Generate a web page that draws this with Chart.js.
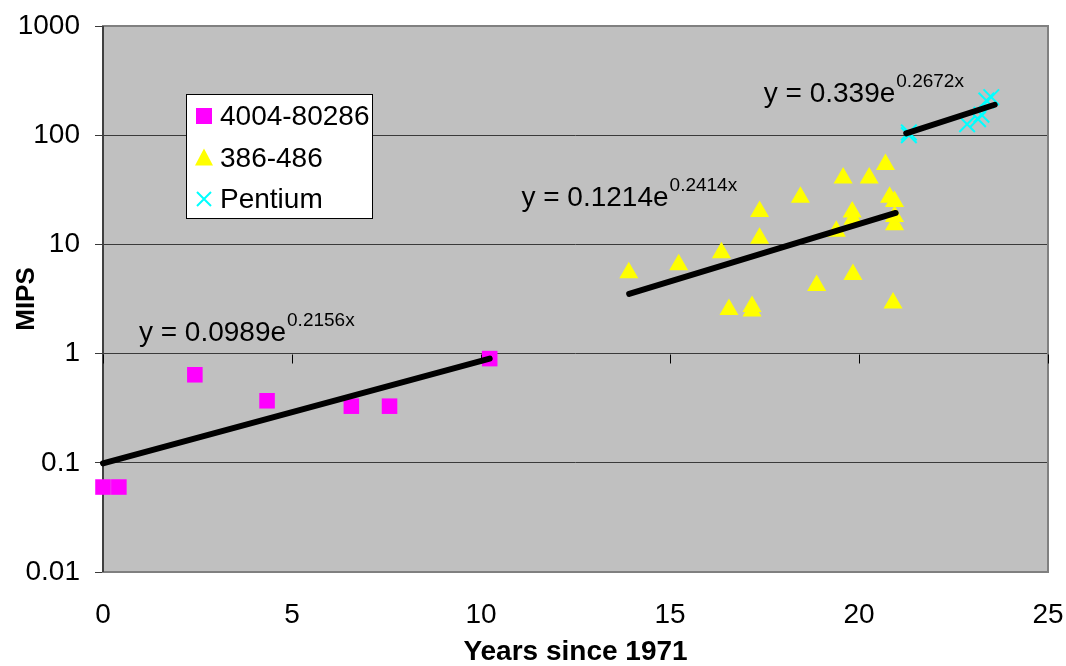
<!DOCTYPE html>
<html>
<head>
<meta charset="utf-8">
<script src="https://cdn.jsdelivr.net/npm/chart.js@4.4.1/dist/chart.umd.min.js"></script>
<style>
  html, body { margin: 0; padding: 0; background: #fff; }
  #wrap { width: 1066px; height: 666px; position: relative; }
</style>
</head>
<body>
<div id="wrap"><canvas id="mips-chart"></canvas></div>
<script>
// values (x = years since 1971, y = MIPS)
const early_x = [0, 0.42, 2.43, 4.34, 6.57, 7.58, 10.23];
const early_y = [0.06, 0.06, 0.64, 0.37, 0.33, 0.33, 0.9];

const mid_x = [13.91, 15.23, 16.36, 16.56, 17.17, 17.17, 17.37, 17.37, 18.45, 18.88, 19.4, 19.58,
               19.82, 19.84, 19.84, 20.27, 20.7, 20.81, 20.94, 20.94, 20.94, 20.9];
const mid_y = [5.5, 6.5, 8.4, 2.53, 2.7, 2.45, 20, 11.4, 27, 4.2, 13.2, 40.5,
               19.8, 17, 5.3, 40.5, 54, 27, 24.7, 18, 15.1, 2.9];

const pent_x = [21.32, 21.32, 22.86, 23.15, 23.24, 23.37, 23.5];
const pent_y = [100, 106, 126, 140, 154, 208, 223];

// trendline end points
const trend1_x = [0, 10.23];
const trend1_y = [0.0989, 0.9];
const trend2_x = [13.92, 20.97];
const trend2_y = [3.52, 19.4];
const trend3_x = [21.25, 23.59];
const trend3_y = [104, 190];

const seriesNames = ['4004-80286', '386-486', 'Pentium'];
const eqBase = ['y = 0.0989e', 'y = 0.1214e', 'y = 0.339e'];
const eqExp = ['0.2156x', '0.2414x', '0.2672x'];

const yTicks = [0.01, 0.1, 1, 10, 100, 1000];
const yTickLabels = ['0.01', '0.1', '1', '10', '100', '1000'];
const xTicks = [0, 5, 10, 15, 20, 25];

const FONT = 'Arial, "Liberation Sans", sans-serif';

function pts(xs, ys) {
    return xs.map((x, i) => ({ x: x, y: ys[i] }));
}

function trend(xs, ys) {
    return {
        data: pts(xs, ys),
        showLine: true,
        borderColor: '#000',
        borderWidth: 6,
        borderCapStyle: 'round',
        pointRadius: 0,
        order: 0,
        clip: false
    };
}

// grey plot area, border and the little x ticks where the x axis crosses y = 1
const plotBackground = {
    id: 'plotBackground',
    beforeDraw(chart) {
        const { ctx, chartArea: a } = chart;
        ctx.save();
        ctx.fillStyle = '#c0c0c0';
        ctx.fillRect(a.left, a.top, a.right - a.left, a.bottom - a.top);
        ctx.restore();
    },
    beforeDatasetsDraw(chart) {
        const { ctx, chartArea: a, scales } = chart;
        ctx.save();
        ctx.strokeStyle = '#808080';
        ctx.lineWidth = 2;
        ctx.strokeRect(a.left, a.top, a.right - a.left, a.bottom - a.top);
        ctx.strokeStyle = '#000';
        ctx.lineWidth = 1;
        ctx.beginPath();
        ctx.moveTo(a.left, a.top);
        ctx.lineTo(a.left, a.bottom);
        const y1 = Math.round(scales.y.getPixelForValue(1)) + 0.5;
        xTicks.forEach(v => {
            const px = Math.round(scales.x.getPixelForValue(v)) + 0.5;
            ctx.moveTo(px, y1);
            ctx.lineTo(px, y1 + 9);
        });
        ctx.stroke();
        ctx.restore();
    }
};

// trendline equations, anchored on data values
const equations = {
    id: 'equations',
    afterDatasetsDraw(chart, args, opts) {
        const { ctx, scales } = chart;
        ctx.save();
        ctx.fillStyle = '#000';
        ctx.textBaseline = 'alphabetic';
        opts.anchors.forEach((p, i) => {
            const px = scales.x.getPixelForValue(p[0]);
            const py = scales.y.getPixelForValue(p[1]);
            ctx.font = '28px ' + FONT;
            ctx.fillText(eqBase[i], px, py);
            const w = ctx.measureText(eqBase[i]).width;
            ctx.font = '19px ' + FONT;
            ctx.fillText(eqExp[i], px + w + 1, py - 15);
        });
        ctx.restore();
    }
};

// legend box inside the plot
const boxLegend = {
    id: 'boxLegend',
    afterDraw(chart, args, opts) {
        const { ctx } = chart;
        const b = opts.box;
        ctx.save();
        ctx.fillStyle = '#fff';
        ctx.fillRect(b[0], b[1], b[2], b[3]);
        ctx.strokeStyle = '#000';
        ctx.lineWidth = 1;
        ctx.strokeRect(b[0] + 0.5, b[1] + 0.5, b[2], b[3]);
        ctx.font = '28px ' + FONT;
        ctx.textBaseline = 'alphabetic';
        seriesNames.forEach((name, i) => {
            const cy = b[1] + 22 + i * 41.5;
            const cx = b[0] + 18;
            if (i === 0) {
                ctx.fillStyle = '#ff00ff';
                ctx.fillRect(cx - 8, cy - 8, 16, 16);
            } else if (i === 1) {
                ctx.fillStyle = '#ffff00';
                ctx.beginPath();
                ctx.moveTo(cx, cy - 9);
                ctx.lineTo(cx + 9, cy + 8);
                ctx.lineTo(cx - 9, cy + 8);
                ctx.closePath();
                ctx.fill();
            } else {
                ctx.strokeStyle = '#00ffff';
                ctx.lineWidth = 2;
                ctx.beginPath();
                ctx.moveTo(cx - 7, cy - 7);
                ctx.lineTo(cx + 7, cy + 7);
                ctx.moveTo(cx + 7, cy - 7);
                ctx.lineTo(cx - 7, cy + 7);
                ctx.stroke();
            }
            ctx.fillStyle = '#000';
            ctx.fillText(name, b[0] + 34, cy + 9);
        });
        ctx.restore();
    }
};

const ctx = document.getElementById('mips-chart').getContext('2d');
const mipsChart = new Chart(ctx, {
    type: 'scatter',
    data: {
        datasets: [
            trend(trend1_x, trend1_y),
            trend(trend2_x, trend2_y),
            trend(trend3_x, trend3_y),
            {
                label: seriesNames[0],
                data: pts(early_x, early_y),
                pointStyle: 'rect',
                pointRadius: 11,
                pointBackgroundColor: '#ff00ff',
                pointBorderWidth: 0,
                order: 1,
                clip: false
            },
            {
                label: seriesNames[1],
                data: pts(mid_x, mid_y),
                pointStyle: 'triangle',
                pointRadius: 11,
                pointBackgroundColor: '#ffff00',
                pointBorderWidth: 0,
                order: 1,
                clip: false
            },
            {
                label: seriesNames[2],
                data: pts(pent_x, pent_y),
                pointStyle: 'crossRot',
                pointRadius: 11,
                pointBorderColor: '#00ffff',
                pointBorderWidth: 2,
                order: 1,
                clip: false
            }
        ]
    },
    options: {
        responsive: true,
        maintainAspectRatio: false,
        animation: false,
        layout: { padding: { top: 26, right: 18, left: 0, bottom: 0 } },
        plugins: {
            legend: { display: false },
            tooltip: { enabled: false },
            equations: { anchors: [[0.95, 1.3], [11.07, 22.3], [17.48, 203]] },
            boxLegend: { box: [186, 94, 186, 124] }
        },
        scales: {
            x: {
                type: 'linear',
                min: 0,
                max: 25,
                afterBuildTicks: s => { s.ticks = xTicks.map(v => ({ value: v })); },
                afterFit: s => {
                    s.height = 94;
                    s.paddingLeft = 0;
                    s.paddingRight = 0;
                },
                grid: { display: false, drawTicks: false },
                border: { display: false },
                ticks: {
                    color: '#000',
                    padding: 26,
                    maxRotation: 0,
                    font: { family: FONT, size: 28 }
                },
                title: {
                    display: true,
                    text: 'Years since 1971',
                    color: '#000',
                    padding: { top: 0, bottom: 0 },
                    font: { family: FONT, size: 28, weight: 'bold', lineHeight: 1 }
                }
            },
            y: {
                type: 'logarithmic',
                min: 0.01,
                max: 1000,
                afterBuildTicks: s => { s.ticks = yTicks.map(v => ({ value: v })); },
                afterFit: s => {
                    s.width = 103;
                    s.paddingTop = 0;
                    s.paddingBottom = 0;
                },
                grid: {
                    color: '#3a3a3a',
                    lineWidth: 1,
                    tickLength: 8
                },
                border: { display: false },
                ticks: {
                    color: '#000',
                    padding: 15,
                    font: { family: FONT, size: 28 },
                    callback: (v, i) => yTickLabels[i]
                },
                title: {
                    display: true,
                    text: 'MIPS',
                    color: '#000',
                    padding: { top: 11, bottom: 0 },
                    font: { family: FONT, size: 26, weight: 'bold' }
                }
            }
        }
    },
    plugins: [plotBackground, equations, boxLegend]
});
</script>
</body>
</html>
